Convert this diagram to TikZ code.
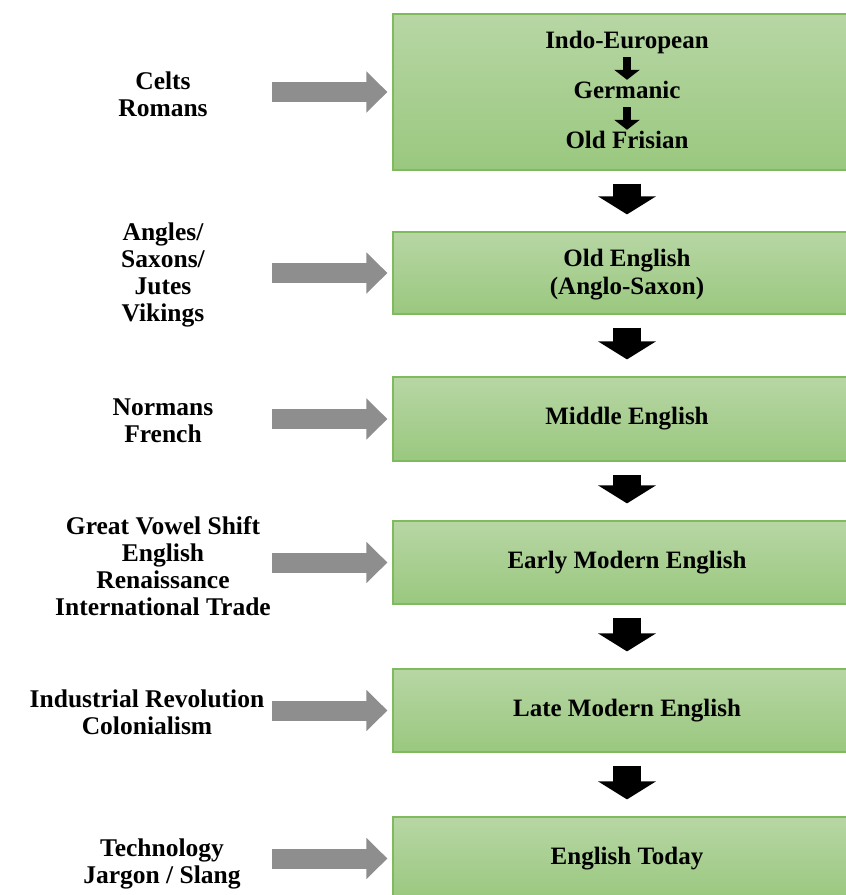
\documentclass[tikz,border=0pt]{standalone}
\usepackage{fontspec}
\setmainfont{Liberation Serif}
\usetikzlibrary{arrows.meta}

\definecolor{verdearriba}{RGB}{183,214,164}
\definecolor{verdeabajo}{RGB}{154,200,127}
\definecolor{bordeverde}{RGB}{128,186,94}
\definecolor{grisflecha}{RGB}{142,142,142}

\begin{document}
\begin{tikzpicture}[x=1pt,y=-1pt,
  caja/.style={draw=bordeverde,line width=1.2pt,top color=verdearriba,bottom color=verdeabajo,minimum width=468pt,inner sep=0pt},
  textocaja/.style={font=\bfseries\fontsize{25pt}{28pt}\selectfont,align=center,inner sep=0pt},
  textoizq/.style={font=\bfseries\fontsize{25.5pt}{27pt}\selectfont,align=center,inner sep=0pt,anchor=north},
  flechanegra/.style={draw=black,line width=28pt,-{Triangle[length=18pt,width=57pt]},shorten <=13pt,shorten >=17pt},
  flechachica/.style={draw=black,line width=8pt,-{Triangle[length=10pt,width=25pt]},shorten <=4pt,shorten >=1pt},
  flechagris/.style={draw=grisflecha,line width=20pt,-{Triangle[length=21pt,width=40pt]},shorten >=5pt}]

%tamano de la figura
\useasboundingbox (0,0) rectangle (846,895);
\clip (0,0) rectangle (846,895);

%cajas verdes de cada etapa
\node[caja,minimum height=156pt] (b1) at (627,92) {};
\node[caja,minimum height=82pt] (b2) at (627,273) {};
\node[caja,minimum height=84pt] (b3) at (627,419) {};
\node[caja,minimum height=83pt] (b4) at (627,562.5) {};
\node[caja,minimum height=83pt] (b5) at (627,710.5) {};
\node[caja,minimum height=83pt] (b6) at (627,858.5) {};

%textos dentro de la primera caja
\node[textocaja,text height=17pt,text depth=5pt] (ie) at (627,42) {Indo-European};
\node[textocaja,text height=17pt,text depth=5pt] (ge) at (627,92) {Germanic};
\node[textocaja,text height=17pt,text depth=5pt] (of) at (627,142) {Old Frisian};
\draw[flechachica] (ie) -- (ge);
\draw[flechachica] (ge) -- (of);

%textos de las otras cajas
\node[textocaja,anchor=north] (t2) at (627,249) {Old English\\(Anglo-Saxon)};
\node[textocaja] (t3) at (b3) {Middle English};
\node[textocaja] (t4) at (b4) {Early Modern English};
\node[textocaja] (t5) at (b5) {Late Modern English};
\node[textocaja] (t6) at (b6) {English Today};

%flechas negras entre etapas
\foreach \a/\b in {1/2,2/3,3/4,4/5,5/6}
	\draw[flechanegra] (b\a.south) -- (b\b.north);

%influencias a la izquierda
\node[textoizq] (l1) at (163,71.5) {Celts\\Romans};
\node[textoizq] (l2) at (163,222.5) {Angles/\\Saxons/\\Jutes\\Vikings};
\node[textoizq] (l3) at (163,398.5) {Normans\\French};
\node[textoizq] (l4) at (163,516.5) {Great Vowel Shift\\English\\Renaissance\\International Trade};
\node[textoizq] (l5) at (147,689.5) {Industrial Revolution\\Colonialism};
\node[textoizq] (l6) at (162,838.5) {Technology\\Jargon / Slang};

%flechas grises hacia las cajas
\foreach \n in {1,...,6}{
	\coordinate (g\n) at ([xshift=-120pt]b\n.west);
	\draw[flechagris] (g\n) -- (b\n.west);
}
\end{tikzpicture}
\end{document}
